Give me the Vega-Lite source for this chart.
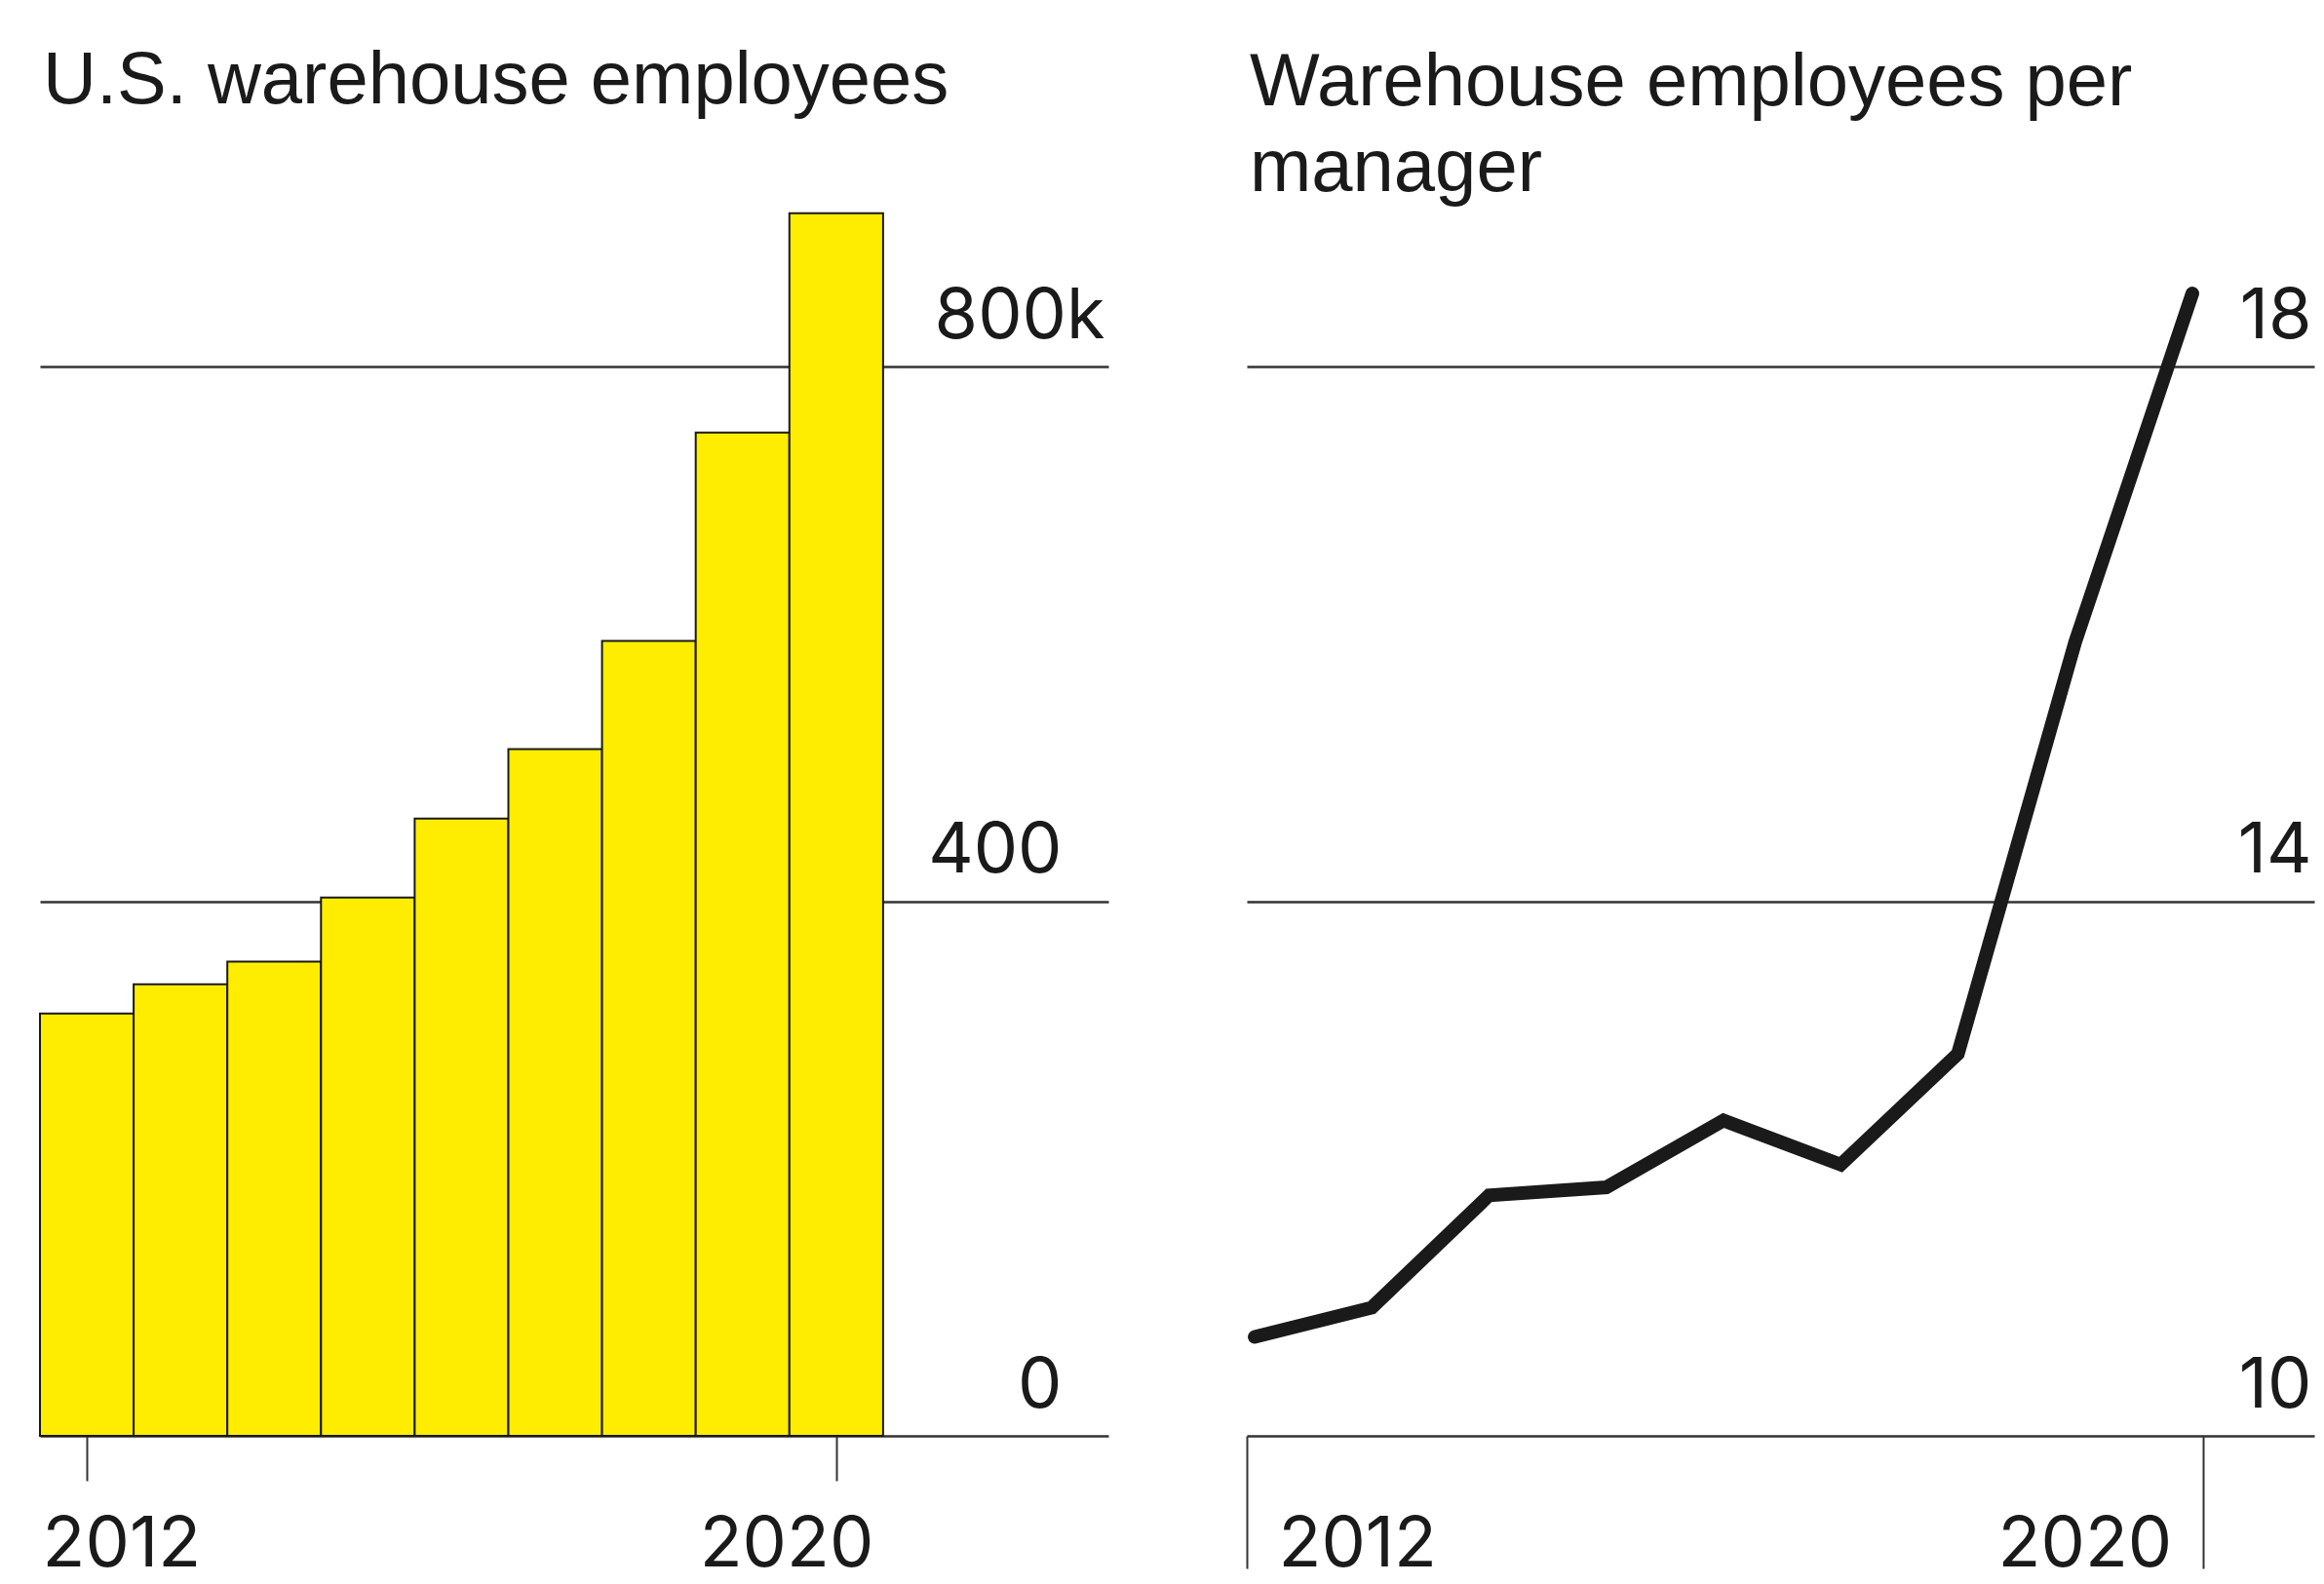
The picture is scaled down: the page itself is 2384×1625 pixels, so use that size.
{
  "$schema": "https://vega.github.io/schema/vega-lite/v6.json",
  "background": "white",
  "padding": {"left": 39, "top": 45, "right": 10, "bottom": 0},
  "bounds": "flush",
  "spacing": 142,
  "config": {
    "view": {"stroke": null},
    "font": "Liberation Sans",
    "axis": {"labelFont": "Inter", "labelColor": "#1a1a1a", "labelFontSize": 72, "title": null, "domain": false}
  },
  "hconcat": [
    {
      "width": 1096,
      "height": 1261,
      "title": {"text": "U.S. warehouse employees", "anchor": "start", "frame": "group", "baseline": "alphabetic", "fontSize": 76, "lineHeight": 90, "font": "Liberation Sans", "fontWeight": "normal", "color": "#1a1a1a", "offset": 30, "dx": 3},
      "data": {"values": [
        {"year": 2012, "employees": 316},
        {"year": 2013, "employees": 338},
        {"year": 2014, "employees": 355},
        {"year": 2015, "employees": 403},
        {"year": 2016, "employees": 462},
        {"year": 2017, "employees": 514},
        {"year": 2018, "employees": 595},
        {"year": 2019, "employees": 751},
        {"year": 2020, "employees": 915}
      ]},
      "mark": {"type": "bar", "orient": "vertical", "size": 96.1, "fill": "#FFED00", "stroke": "#1a1a1a", "strokeWidth": 2},
      "encoding": {
        "x": {
          "field": "year", "type": "quantitative",
          "scale": {"domain": [2011.5, 2022.905], "nice": false, "zero": false, "padding": 0},
          "axis": {
            "values": [2012, 2020], "format": "d", "labelAngle": 0, "grid": false, "ticks": true, "tickSize": 46, "tickColor": "#333333", "tickWidth": 2,
            "labelBaseline": "alphabetic", "labelPadding": 87, "labelFlush": false, "labelOverlap": false,
            "labelAlign": {"condition": {"test": "datum.value == 2012", "value": "left"}, "value": "right"},
            "labelOffset": {"condition": {"test": "datum.value == 2012", "value": -46}, "value": 38}
          }
        },
        "y": {
          "field": "employees", "type": "quantitative",
          "scale": {"domain": [0, 920], "nice": false},
          "axis": {
            "orient": "right", "values": [0, 400, 800], "grid": true, "gridColor": "#333333", "gridWidth": 2.5, "ticks": false,
            "labelAlign": "right", "labelBaseline": "alphabetic", "labelOffset": -30, "labelFlush": false,
            "labelPadding": {"condition": {"test": "datum.value == 800", "value": -4}, "value": -48},
            "labelExpr": "datum.value == 800 ? '800k' : datum.label"
          }
        }
      }
    },
    {
      "width": 1095,
      "height": 1261,
      "title": {"text": ["Warehouse employees per", "manager"], "anchor": "start", "frame": "group", "baseline": "alphabetic", "fontSize": 76, "lineHeight": 88, "font": "Liberation Sans", "fontWeight": "normal", "color": "#1a1a1a", "offset": -60, "dx": 3},
      "data": {"values": [
        {"year": 2012, "ratio": 10.74},
        {"year": 2013, "ratio": 10.96},
        {"year": 2014, "ratio": 11.8},
        {"year": 2015, "ratio": 11.86},
        {"year": 2016, "ratio": 12.36},
        {"year": 2017, "ratio": 12.03},
        {"year": 2018, "ratio": 12.86},
        {"year": 2019, "ratio": 15.94},
        {"year": 2020, "ratio": 18.55}
      ]},
      "mark": {"type": "line", "color": "#1a1a1a", "strokeWidth": 14, "strokeCap": "round", "strokeJoin": "miter"},
      "encoding": {
        "x": {
          "field": "year", "type": "quantitative",
          "scale": {"domain": [2011.933, 2021.04], "nice": false, "zero": false},
          "axis": {
            "values": [2011.933, 2020.09], "labelExpr": "datum.value < 2016 ? '2012' : '2020'", "grid": false, "ticks": true, "tickSize": 136, "tickColor": "#333333", "tickWidth": 2,
            "labelBaseline": "alphabetic", "labelPadding": -3, "labelFlush": false, "labelOverlap": false,
            "labelAlign": {"condition": {"test": "datum.value < 2016", "value": "left"}, "value": "right"},
            "labelOffset": {"condition": {"test": "datum.value < 2016", "value": 32}, "value": -32}
          }
        },
        "y": {
          "field": "ratio", "type": "quantitative",
          "scale": {"domain": [10, 19.2], "nice": false, "zero": false},
          "axis": {
            "orient": "right", "values": [10, 14, 18], "grid": true, "gridColor": "#333333", "gridWidth": 2.5, "ticks": false,
            "labelAlign": "right", "labelBaseline": "alphabetic", "labelOffset": -30, "labelFlush": false, "labelPadding": -3
          }
        }
      }
    }
  ]
}
